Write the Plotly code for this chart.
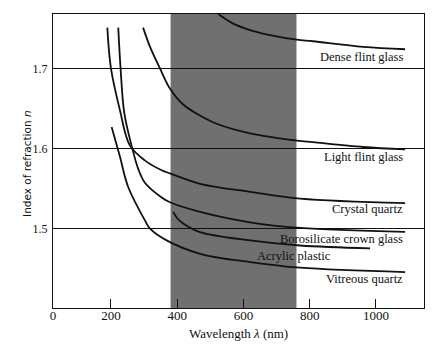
import plotly.graph_objects as go

# ---- data (wavelength in nm, refractive index n) ----
dense_flint_wl = [524, 569, 620, 700, 761, 810, 961, 1088]
dense_flint_n = [1.768, 1.756, 1.748, 1.740, 1.736, 1.734, 1.727, 1.724]

light_flint_wl = [297, 318, 348, 378, 418, 470, 519, 620, 761, 810, 961, 1088]
light_flint_n = [1.751, 1.727, 1.700, 1.675, 1.655, 1.641, 1.631, 1.619, 1.610, 1.608, 1.602, 1.599]

crystal_quartz_wl = [189, 200, 227, 257, 303, 353, 378, 469, 620, 771, 1088]
crystal_quartz_n = [1.751, 1.700, 1.648, 1.604, 1.585, 1.573, 1.569, 1.556, 1.546, 1.5375, 1.532]

borosilicate_wl = [222, 229, 240, 262, 282, 303, 353, 378, 469, 620, 771, 1088]
borosilicate_n = [1.751, 1.700, 1.645, 1.604, 1.575, 1.557, 1.539, 1.533, 1.521, 1.508, 1.501, 1.496]

acrylic_wl = [388, 400, 418, 469, 620, 771, 982]
acrylic_n = [1.521, 1.513, 1.5066, 1.4958, 1.4854, 1.479, 1.4755]

vitreous_wl = [202, 227, 252, 303, 318, 368, 469, 620, 771, 1088]
vitreous_n = [1.627, 1.590, 1.552, 1.510, 1.500, 1.4854, 1.4687, 1.4583, 1.4513, 1.4458]

visible_band = [380, 760]

x_tick_vals = [25, 200, 400, 600, 800, 1000]
x_tick_text = ["0", "200", "400", "600", "800", "1000"]
y_tick_vals = [1.4, 1.5, 1.6, 1.7]
y_tick_text = ["1.4", "1.5", "1.6", "1.7"]

labels = ["Dense flint glass", "Light flint glass", "Crystal quartz",
          "Borosilicate crown glass", "Acrylic plastic", "Vitreous quartz"]
label_x = [1088, 1088, 1088, 1088, 870, 1088]
label_n = [1.7145, 1.5895, 1.525, 1.4866, 1.4658, 1.4375]

series = [
    (dense_flint_wl, dense_flint_n),
    (light_flint_wl, light_flint_n),
    (crystal_quartz_wl, crystal_quartz_n),
    (borosilicate_wl, borosilicate_n),
    (acrylic_wl, acrylic_n),
    (vitreous_wl, vitreous_n),
]

fig = go.Figure()
for (wl, n), name in zip(series, labels):
    fig.add_trace(go.Scatter(
        x=wl, y=n, mode="lines", name=name,
        line=dict(color="#111111", width=1.8, shape="spline", smoothing=1.0),
        showlegend=False, hoverinfo="skip",
    ))

fig.add_shape(type="rect", xref="x", yref="paper",
              x0=visible_band[0], x1=visible_band[1], y0=0, y1=1,
              fillcolor="#707070", line=dict(width=0), layer="below")

serif = "Liberation Serif"
for txt, lx, ly in zip(labels, label_x, label_n):
    fig.add_annotation(x=lx, y=ly, xref="x", yref="y", text=txt,
                       showarrow=False, xanchor="right", yanchor="middle",
                       font=dict(family=serif, size=12.5, color="#111111"))

fig.add_annotation(x=-0.07, y=0.49, xref="paper", yref="paper",
                   text="Index of refraction <i>n</i>", textangle=-90,
                   showarrow=False, xanchor="center", yanchor="middle",
                   font=dict(family="DejaVu Sans", size=10.5, color="#111111"))
fig.add_annotation(x=0.5, y=-0.086, xref="paper", yref="paper",
                   text="Wavelength <i>λ</i> (nm)",
                   showarrow=False, xanchor="center", yanchor="middle",
                   font=dict(family=serif, size=13, color="#111111"))

fig.update_layout(
    width=447, height=352,
    margin=dict(l=53, r=23, t=14, b=44),
    paper_bgcolor="white", plot_bgcolor="white",
    xaxis=dict(range=[25, 1145], tickvals=x_tick_vals, ticktext=x_tick_text,
               ticks="inside", ticklen=9, tickwidth=1.3, tickcolor="#111111",
               showgrid=False, zeroline=False, showline=True, linecolor="#111111",
               linewidth=1.3, mirror=True, ticklabelstandoff=-5,
               tickfont=dict(family=serif, size=13, color="#111111")),
    yaxis=dict(range=[1.401, 1.768], tickvals=y_tick_vals, ticktext=y_tick_text,
               ticks="", showgrid=True, gridcolor="#111111", gridwidth=1.2,
               zeroline=False, showline=True, linecolor="#111111", linewidth=1.3,
               mirror=True, ticklabelstandoff=2,
               tickfont=dict(family=serif, size=12, color="#111111")),
)

fig.write_html("out.html")
